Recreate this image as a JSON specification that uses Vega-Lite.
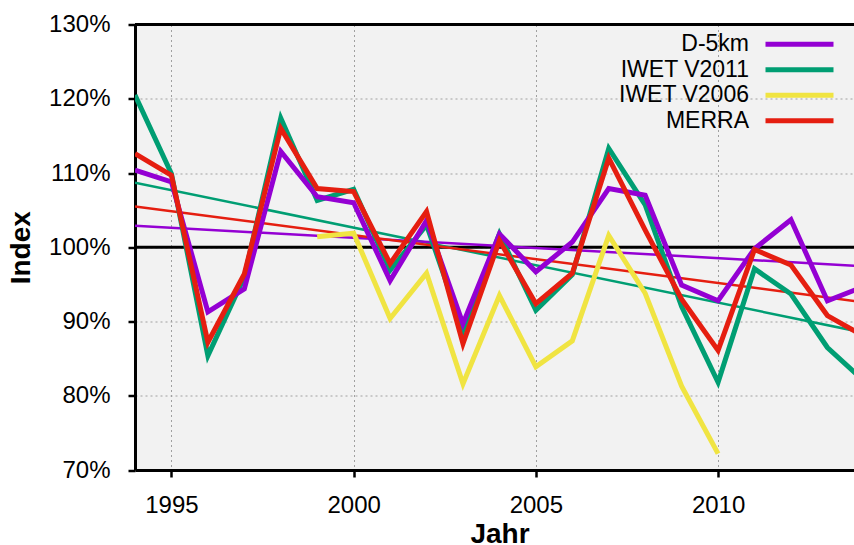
{
  "$schema": "https://vega.github.io/schema/vega-lite/v6.json",
  "width": 719,
  "height": 445.5,
  "autosize": {"type": "none"},
  "padding": {"left": 135, "top": 24.5, "right": 0, "bottom": 75},
  "background": "white",
  "config": {
    "font": "Liberation Sans",
    "view": {"fill": "#f2f2f2", "stroke": null},
    "axis": {
      "domainColor": "black", "domainWidth": 3,
      "ticks": true,
      "tickColor": "black", "tickWidth": 2.5, "tickSize": 7,
      "labelFont": "Liberation Sans", "labelFontSize": 24, "labelColor": "black",
      "titleFont": "Liberation Sans", "titleFontSize": 28, "titleFontWeight": "bold", "titleColor": "black",
      "gridColor": "#a0a0a0", "gridDash": [2, 3], "gridWidth": 1
    }
  },
  "datasets": {
    "obs": [
      {"year": 1994, "series": "IWET V2011", "value": 120.5},
      {"year": 1995, "series": "IWET V2011", "value": 109.9},
      {"year": 1996, "series": "IWET V2011", "value": 85.4},
      {"year": 1997, "series": "IWET V2011", "value": 96.0},
      {"year": 1998, "series": "IWET V2011", "value": 117.4},
      {"year": 1999, "series": "IWET V2011", "value": 106.3},
      {"year": 2000, "series": "IWET V2011", "value": 107.8},
      {"year": 2001, "series": "IWET V2011", "value": 96.9},
      {"year": 2002, "series": "IWET V2011", "value": 103.0},
      {"year": 2003, "series": "IWET V2011", "value": 88.8},
      {"year": 2004, "series": "IWET V2011", "value": 101.8},
      {"year": 2005, "series": "IWET V2011", "value": 91.5},
      {"year": 2006, "series": "IWET V2011", "value": 96.3},
      {"year": 2007, "series": "IWET V2011", "value": 113.3},
      {"year": 2008, "series": "IWET V2011", "value": 105.7},
      {"year": 2009, "series": "IWET V2011", "value": 92.0},
      {"year": 2010, "series": "IWET V2011", "value": 81.8},
      {"year": 2011, "series": "IWET V2011", "value": 97.1},
      {"year": 2012, "series": "IWET V2011", "value": 93.7},
      {"year": 2013, "series": "IWET V2011", "value": 86.5},
      {"year": 2014, "series": "IWET V2011", "value": 82.0},
      {"year": 1999, "series": "IWET V2006", "value": 101.4},
      {"year": 2000, "series": "IWET V2006", "value": 101.9},
      {"year": 2001, "series": "IWET V2006", "value": 90.4},
      {"year": 2002, "series": "IWET V2006", "value": 96.5},
      {"year": 2003, "series": "IWET V2006", "value": 81.6},
      {"year": 2004, "series": "IWET V2006", "value": 93.5},
      {"year": 2005, "series": "IWET V2006", "value": 83.9},
      {"year": 2006, "series": "IWET V2006", "value": 87.4},
      {"year": 2007, "series": "IWET V2006", "value": 101.6},
      {"year": 2008, "series": "IWET V2006", "value": 93.8},
      {"year": 2009, "series": "IWET V2006", "value": 81.3},
      {"year": 2010, "series": "IWET V2006", "value": 72.2},
      {"year": 1994, "series": "D-5km", "value": 110.4},
      {"year": 1995, "series": "D-5km", "value": 108.8},
      {"year": 1996, "series": "D-5km", "value": 91.3},
      {"year": 1997, "series": "D-5km", "value": 94.4},
      {"year": 1998, "series": "D-5km", "value": 112.9},
      {"year": 1999, "series": "D-5km", "value": 106.8},
      {"year": 2000, "series": "D-5km", "value": 106.0},
      {"year": 2001, "series": "D-5km", "value": 95.5},
      {"year": 2002, "series": "D-5km", "value": 103.6},
      {"year": 2003, "series": "D-5km", "value": 89.7},
      {"year": 2004, "series": "D-5km", "value": 101.8},
      {"year": 2005, "series": "D-5km", "value": 96.7},
      {"year": 2006, "series": "D-5km", "value": 100.7},
      {"year": 2007, "series": "D-5km", "value": 107.9},
      {"year": 2008, "series": "D-5km", "value": 107.0},
      {"year": 2009, "series": "D-5km", "value": 94.9},
      {"year": 2010, "series": "D-5km", "value": 92.8},
      {"year": 2011, "series": "D-5km", "value": 99.8},
      {"year": 2012, "series": "D-5km", "value": 103.7},
      {"year": 2013, "series": "D-5km", "value": 92.8},
      {"year": 2014, "series": "D-5km", "value": 94.7},
      {"year": 1994, "series": "MERRA", "value": 112.6},
      {"year": 1995, "series": "MERRA", "value": 109.7},
      {"year": 1996, "series": "MERRA", "value": 87.2},
      {"year": 1997, "series": "MERRA", "value": 96.4},
      {"year": 1998, "series": "MERRA", "value": 116.0},
      {"year": 1999, "series": "MERRA", "value": 107.9},
      {"year": 2000, "series": "MERRA", "value": 107.5},
      {"year": 2001, "series": "MERRA", "value": 97.8},
      {"year": 2002, "series": "MERRA", "value": 104.8},
      {"year": 2003, "series": "MERRA", "value": 87.0},
      {"year": 2004, "series": "MERRA", "value": 100.9},
      {"year": 2005, "series": "MERRA", "value": 92.4},
      {"year": 2006, "series": "MERRA", "value": 96.5},
      {"year": 2007, "series": "MERRA", "value": 112.0},
      {"year": 2008, "series": "MERRA", "value": 102.3},
      {"year": 2009, "series": "MERRA", "value": 93.0},
      {"year": 2010, "series": "MERRA", "value": 86.1},
      {"year": 2011, "series": "MERRA", "value": 99.7},
      {"year": 2012, "series": "MERRA", "value": 97.6},
      {"year": 2013, "series": "MERRA", "value": 90.8},
      {"year": 2014, "series": "MERRA", "value": 88.0}
    ],
    "trend": [
      {"year": 1994, "series": "IWET V2011", "value": 108.7},
      {"year": 2014, "series": "IWET V2011", "value": 88.5},
      {"year": 1994, "series": "D-5km", "value": 102.9},
      {"year": 2014, "series": "D-5km", "value": 97.45},
      {"year": 1994, "series": "MERRA", "value": 105.5},
      {"year": 2014, "series": "MERRA", "value": 92.6}
    ]
  },
  "layer": [
    {
      "data": {"values": [{}]},
      "mark": {"type": "rule", "color": "black", "strokeWidth": 3},
      "encoding": {"y": {"datum": 100, "type": "quantitative"}}
    },
    {
      "data": {"name": "trend"},
      "mark": {"type": "line", "strokeWidth": 2.5, "clip": true},
      "encoding": {
        "x": {"field": "year", "type": "quantitative"},
        "y": {"field": "value", "type": "quantitative"},
        "color": {"field": "series", "type": "nominal"}
      }
    },
    {
      "data": {"name": "obs"},
      "mark": {"type": "line", "strokeWidth": 5, "clip": true, "strokeJoin": "miter", "strokeCap": "butt"},
      "encoding": {
        "x": {
          "field": "year", "type": "quantitative",
          "scale": {"domain": [1994, 2013.73], "zero": false, "nice": false},
          "axis": {"values": [1995, 2000, 2005, 2010], "format": "d", "title": "Jahr", "labelPadding": 16, "titlePadding": 3, "titleX": 364.5, "grid": true, "ticks": true}
        },
        "y": {
          "field": "value", "type": "quantitative",
          "scale": {"domain": [70, 130], "zero": false, "nice": false},
          "axis": {"values": [70, 80, 90, 100, 110, 120, 130], "labelExpr": "datum.value + '%'", "title": "Index", "labelPadding": 18, "titlePadding": 13, "grid": true, "ticks": true}
        },
        "color": {
          "field": "series", "type": "nominal",
          "scale": {"domain": ["D-5km", "IWET V2011", "IWET V2006", "MERRA"], "range": ["#9400d3", "#009e73", "#f0e442", "#e51e10"]},
          "legend": {
            "title": null, "orient": "none", "legendX": 653, "legendY": 8.3,
            "symbolType": "M-4,0H4", "symbolSize": 289, "symbolStrokeWidth": 5,
            "labelFontSize": 23, "labelColor": "black", "labelFont": "Liberation Sans",
            "labelAlign": "right", "labelOffset": -62, "rowPadding": 1.5, "padding": 0
          }
        }
      }
    },
    {
      "data": {"values": [{}]},
      "mark": {"type": "rule", "color": "black", "strokeWidth": 3},
      "encoding": {"y": {"datum": 130, "type": "quantitative"}}
    }
  ]
}
